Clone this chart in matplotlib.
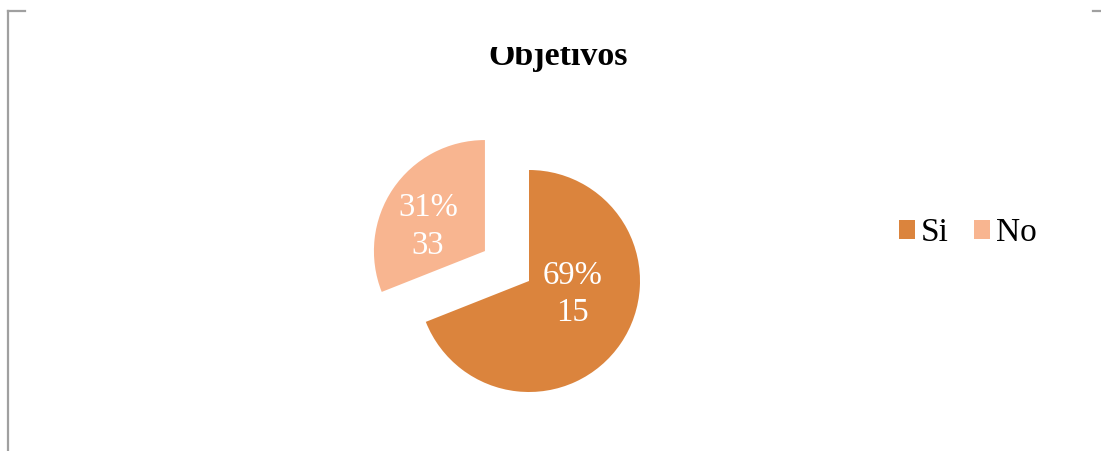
import matplotlib
matplotlib.use("Agg")
import matplotlib.pyplot as plt
from matplotlib.patches import Rectangle
from matplotlib.lines import Line2D

categories = ["Si", "No"]
percents = [69, 31]
counts = [15, 33]
colors = ["#DB843D", "#F8B590"]

plt.rcParams['font.family'] = ['Liberation Serif', 'DejaVu Serif']

fig = plt.figure(figsize=(11.01, 4.51), dpi=100)
W, H = 1101, 451

# pie axes: center (529, 281), radius 111 px
R = 111
cx, cy = 529, 281
ax = fig.add_axes([(cx - 2 * R) / W, 1 - (cy + 2 * R) / H, 4 * R / W, 4 * R / H])
wedges, _ = ax.pie(percents, colors=colors, startangle=90, counterclock=False,
                   explode=[0, 0.48], radius=1.0)
ax.set_xlim(-2, 2)
ax.set_ylim(-2, 2)
ax.set_aspect('equal')
ax.axis('off')

labels = [f"{p}%\n{c}" for p, c in zip(percents, counts)]
label_pos = [(0.39, -0.12), (-0.91, 0.49)]
for (x, y), t in zip(label_pos, labels):
    ax.text(x, y, t, ha='center', va='center', color='white', fontsize=23.5,
            linespacing=1.3)

# title (top clipped as in original)
fig.text(558 / W, 1 - 65 / H, "Objetivos", ha='center', va='baseline',
         fontsize=24.5, fontweight='bold', color='black')
fig.patches.append(Rectangle((400 / W, 1 - 47 / H), 300 / W, 47 / H,
                             transform=fig.transFigure, facecolor='white',
                             edgecolor='none', zorder=10))

# legend
leg = fig.legend(wedges, categories, loc='center left',
                 bbox_to_anchor=(899 / W, 1 - 233 / H), ncol=2, frameon=False,
                 fontsize=24, handlelength=0.48, handleheight=0.48,
                 handletextpad=0.18, columnspacing=0.75, borderaxespad=0,
                 borderpad=0)

# frame lines
lc = '#A0A0A0'
fig.lines.append(Line2D([7.5 / W, 7.5 / W], [0, 1 - 11 / H], transform=fig.transFigure,
                        color=lc, lw=1.6))
fig.lines.append(Line2D([7.5 / W, 25 / W], [1 - 11 / H, 1 - 11 / H],
                        transform=fig.transFigure, color=lc, lw=1.6))
fig.lines.append(Line2D([1093 / W, 1101 / W], [1 - 11 / H, 1 - 11 / H],
                        transform=fig.transFigure, color=lc, lw=1.6))

fig.savefig("out.png", dpi=100, facecolor='white')
